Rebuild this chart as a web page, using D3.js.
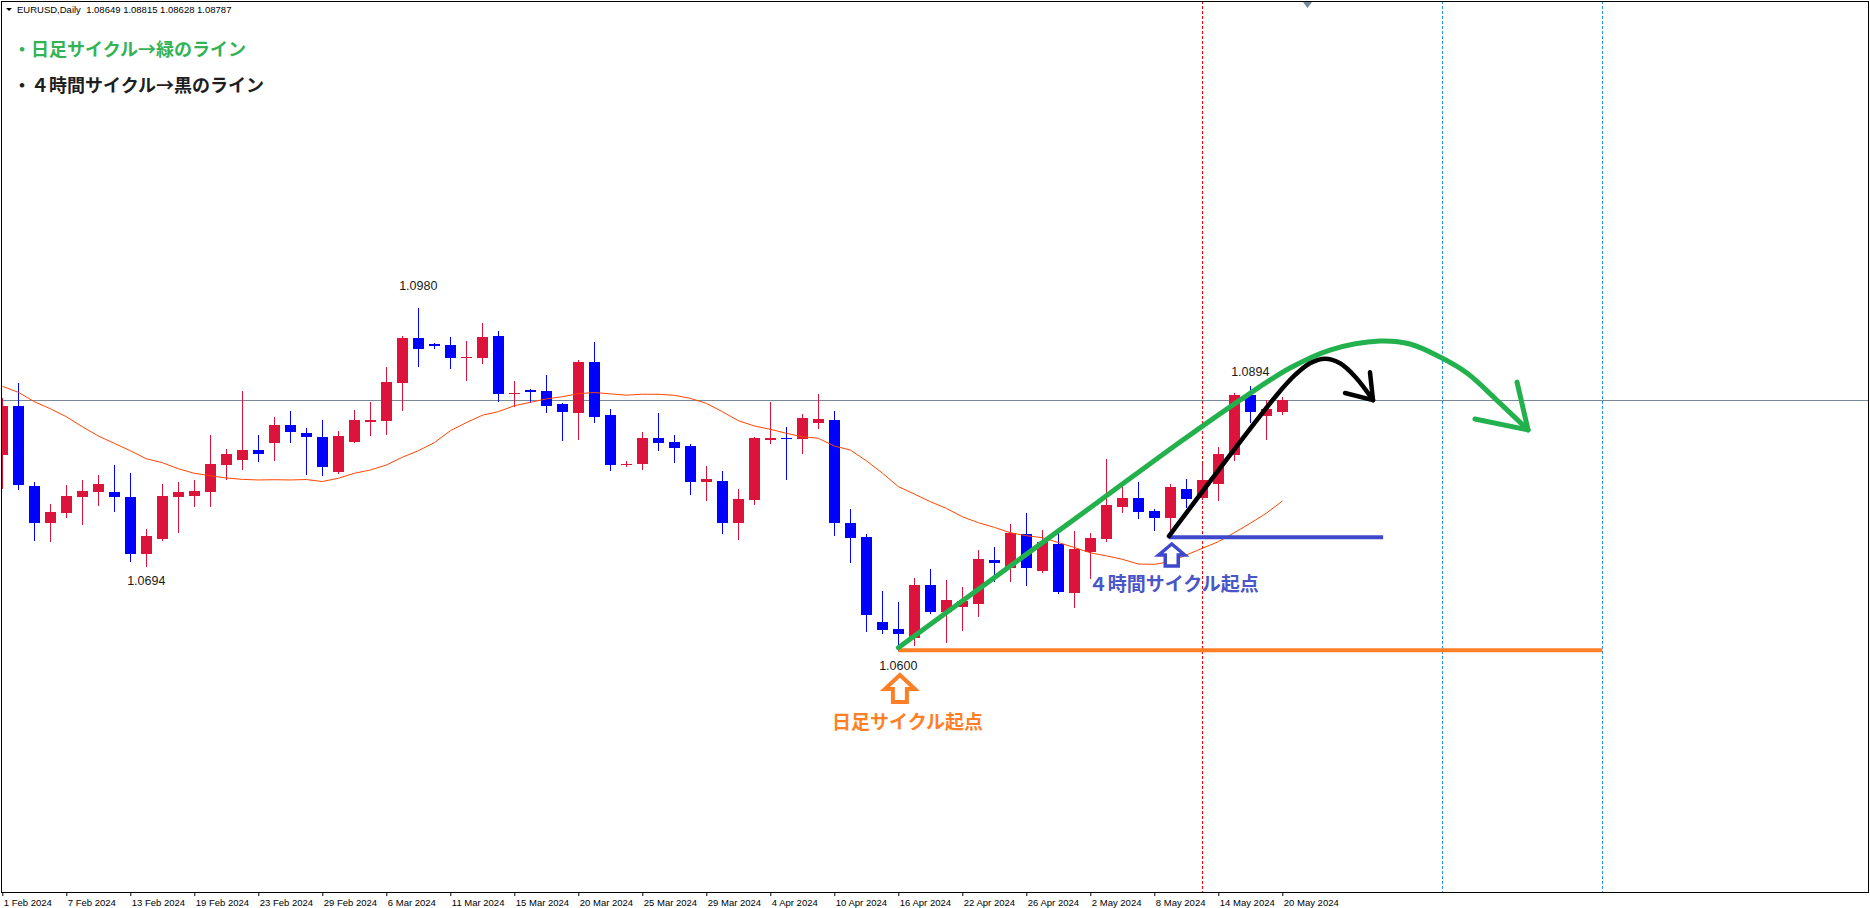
<!DOCTYPE html>
<html>
<head>
<meta charset="utf-8">
<script src="https://d3js.org/d3.v7.min.js"></script>
<style>
  html, body { margin: 0; padding: 0; background: #fff; }
  svg { display: block; }
  .axisText { font-family: 'Liberation Sans', Arial, sans-serif; font-size: 9.5px; fill: #000; }
  .headerText { font-family: 'Liberation Sans', Arial, sans-serif; font-size: 9.5px; fill: #000; white-space: pre; }
  .priceMark { font-family: 'Liberation Sans', Arial, sans-serif; font-size: 12.5px; fill: #1a1a1a; }
  .note { font-family: 'Noto Sans CJK JP', sans-serif; font-weight: bold; }
</style>
</head>
<body>
<div id="chart"></div>
<script>
// EURUSD daily, 1 Feb 2024 .. 20 May 2024 (one entry per bar)
const symbolTitle = 'EURUSD,Daily';
const opens = [1.08170, 1.08715, 1.07826, 1.07418, 1.07526, 1.07704, 1.07763, 1.07759, 1.07704, 1.07074,
  1.07237, 1.07704, 1.07715, 1.07759, 1.08059, 1.08118, 1.08226, 1.08307, 1.08504, 1.08415,
  1.08370, 1.07985, 1.08318, 1.08537, 1.08552, 1.08970, 1.09470, 1.09404, 1.09393, 1.09254,
  1.09252, 1.09493, 1.08854, 1.08896, 1.08882, 1.08740, 1.08640, 1.09204, 1.08615, 1.08065,
  1.08074, 1.08359, 1.08315, 1.08270, 1.07874, 1.07882, 1.07418, 1.07674, 1.08340, 1.08359,
  1.08352, 1.08529, 1.08559, 1.07415, 1.07259, 1.06315, 1.06237, 1.06140, 1.06726, 1.06429,
  1.06485, 1.06518, 1.07004, 1.06918, 1.07293, 1.06885, 1.07182, 1.06640, 1.07093, 1.07237,
  1.07593, 1.07693, 1.07548, 1.07470, 1.07793, 1.07693, 1.07852, 1.08170, 1.08837, 1.08604,
  1.08649];
const highs = [1.08804, 1.08974, 1.07870, 1.07626, 1.07837, 1.07893, 1.07948, 1.08059, 1.07970, 1.07348,
  1.07848, 1.07870, 1.07893, 1.08393, 1.08237, 1.08882, 1.08393, 1.08593, 1.08659, 1.08470,
  1.08559, 1.08437, 1.08670, 1.08759, 1.09148, 1.09493, 1.09800, 1.09415, 1.09482, 1.09440,
  1.09637, 1.09548, 1.08993, 1.08907, 1.09059, 1.08752, 1.09226, 1.09426, 1.08682, 1.08104,
  1.08429, 1.08637, 1.08393, 1.08293, 1.08048, 1.07993, 1.07793, 1.08370, 1.08759, 1.08482,
  1.08626, 1.08848, 1.08659, 1.07570, 1.07293, 1.06659, 1.06537, 1.06807, 1.06904, 1.06782,
  1.06704, 1.07115, 1.07148, 1.07407, 1.07526, 1.07337, 1.07359, 1.07326, 1.07304, 1.08126,
  1.07870, 1.07870, 1.07570, 1.07848, 1.07904, 1.08070, 1.08259, 1.08859, 1.08940, 1.08781,
  1.08815];
const lows = [1.07804, 1.07796, 1.07226, 1.07215, 1.07485, 1.07404, 1.07615, 1.07548, 1.06993, 1.06940,
  1.07226, 1.07315, 1.07604, 1.07604, 1.07904, 1.08015, 1.08107, 1.08118, 1.08318, 1.07963,
  1.07948, 1.07974, 1.08315, 1.08396, 1.08407, 1.08670, 1.09159, 1.09363, 1.09140, 1.09007,
  1.09196, 1.08774, 1.08718, 1.08763, 1.08652, 1.08340, 1.08348, 1.08537, 1.08007, 1.08048,
  1.08018, 1.08229, 1.08096, 1.07740, 1.07670, 1.07307, 1.07240, 1.07629, 1.08307, 1.07907,
  1.08196, 1.08474, 1.07285, 1.06985, 1.06218, 1.06196, 1.06000, 1.06063, 1.06415, 1.06093,
  1.06226, 1.06385, 1.06774, 1.06774, 1.06729, 1.06870, 1.06637, 1.06485, 1.06804, 1.07218,
  1.07540, 1.07470, 1.07340, 1.07337, 1.07596, 1.07682, 1.07674, 1.08115, 1.08537, 1.08348,
  1.08628];
const closes = [1.08715, 1.07840, 1.07418, 1.07537, 1.07715, 1.07770, 1.07848, 1.07707, 1.07074, 1.07270,
  1.07715, 1.07759, 1.07770, 1.08070, 1.08182, 1.08226, 1.08182, 1.08504, 1.08429, 1.08374,
  1.08040, 1.08382, 1.08559, 1.08559, 1.08982, 1.09470, 1.09352, 1.09382, 1.09252, 1.09259,
  1.09482, 1.08852, 1.08859, 1.08874, 1.08718, 1.08652, 1.09204, 1.08596, 1.08059, 1.08070,
  1.08359, 1.08307, 1.08252, 1.07874, 1.07904, 1.07418, 1.07682, 1.08359, 1.08359, 1.08353,
  1.08582, 1.08570, 1.07418, 1.07252, 1.06396, 1.06229, 1.06182, 1.06726, 1.06429, 1.06559,
  1.06548, 1.07015, 1.06974, 1.07304, 1.06918, 1.07204, 1.06645, 1.07126, 1.07248, 1.07615,
  1.07693, 1.07537, 1.07470, 1.07815, 1.07682, 1.07893, 1.08182, 1.08837, 1.08648, 1.08682,
  1.08787];
// moving average, read bar by bar
const maValues = [1.08934, 1.08867, 1.08763, 1.08685, 1.08596, 1.08485, 1.08382, 1.08300, 1.08218, 1.08129,
  1.08085, 1.08018, 1.07967, 1.07940, 1.07915, 1.07900, 1.07893, 1.07896, 1.07893, 1.07898,
  1.07876, 1.07912, 1.07967, 1.08004, 1.08059, 1.08145, 1.08218, 1.08307, 1.08440, 1.08530,
  1.08612, 1.08652, 1.08718, 1.08756, 1.08793, 1.08818, 1.08852, 1.08865, 1.08850, 1.08835,
  1.08846, 1.08845, 1.08834, 1.08800, 1.08745, 1.08652, 1.08552, 1.08493, 1.08456, 1.08412,
  1.08374, 1.08356, 1.08270, 1.08226, 1.08107, 1.07970, 1.07820, 1.07737, 1.07652, 1.07578,
  1.07485, 1.07418, 1.07367, 1.07307, 1.07274, 1.07252, 1.07198, 1.07143, 1.07084, 1.07050,
  1.07012, 1.06959, 1.06956, 1.06985, 1.07059, 1.07134, 1.07207, 1.07307, 1.07412, 1.07523,
  1.07659];

const tickLabels = ['1 Feb 2024', '7 Feb 2024', '13 Feb 2024', '19 Feb 2024', '23 Feb 2024', '29 Feb 2024',
  '6 Mar 2024', '11 Mar 2024', '15 Mar 2024', '20 Mar 2024', '25 Mar 2024', '29 Mar 2024', '4 Apr 2024',
  '10 Apr 2024', '16 Apr 2024', '22 Apr 2024', '26 Apr 2024', '2 May 2024', '8 May 2024', '14 May 2024',
  '20 May 2024'];
const tickEvery = 4;

// marked swing highs / lows (bar index)
const markBars = [9, 26, 56, 78];
const markKinds = ['low', 'high', 'low', 'high'];

// vertical dotted lines (bar index, future bars included)
const vLineBars = [75, 90, 100];
const vLineKinds = ['red', 'blue', 'blue'];

// hand drawn notes, points as [bar index, price]
const greenCurve = [[56.0, 1.0603], [62.36, 1.06854], [68.61, 1.07665], [73.61, 1.08315], [77.36, 1.08781],
  [80.48, 1.09137], [82.98, 1.09337], [86.1, 1.09437], [87.98, 1.09404], [89.86, 1.09259], [91.54, 1.09081],
  [93.4, 1.08781], [95.36, 1.08448]];
const greenHead = [[94.67, 1.0898], [95.36, 1.0845], [92.04, 1.0857]];
const blackCurve = [[72.92, 1.0727], [79.67, 1.0884], [80.8, 1.0906], [81.73, 1.0919], [82.67, 1.0924],
  [83.61, 1.0919], [84.61, 1.0903], [85.67, 1.0878]];
const blackHead = [[85.48, 1.0909], [85.67, 1.0878], [83.92, 1.0886]];
const dailyStartLine = [[56, 1.0600], [100, 1.0600]];
const h4StartLine = [[72.9, 1.07256], [86.3, 1.07256]];
const dailyArrowTip = [56.1, 1.05726];
const h4ArrowTip = [73.09, 1.07182];
const dailyLabel = {text: '日足サイクル起点', at: [51.86, 1.05126]};
const h4Label = {text: '４時間サイクル起点', at: [67.9, 1.06659]};
const legendLines = ['・日足サイクル→緑のライン', '・４時間サイクル→黒のライン'];

// visible price window of the chart
const priceMin = 1.03315, priceMax = 1.13215;

const width = 1870, height = 908;
const frame = {left: 1, top: 1, right: 1868, bottom: 892};

const svg = d3.select('#chart').append('svg')
    .attr('width', width)
    .attr('height', height)
    .style('background', '#fff');

const x = d3.scaleLinear().domain([0, opens.length - 1]).range([2.3, 2.3 + 16 * (opens.length - 1)]);
const y = d3.scaleLinear().domain([priceMin, priceMax]).range([frame.bottom, frame.top]);
const px = i => Math.round(x(i));

svg.append('clipPath').attr('id', 'plotClip')
    .append('rect')
    .attr('x', frame.left + 1).attr('y', frame.top + 1)
    .attr('width', frame.right - frame.left - 1).attr('height', frame.bottom - frame.top - 1);

const plot = svg.append('g').attr('clip-path', 'url(#plotClip)');

// bid line
plot.append('line')
    .attr('x1', frame.left).attr('x2', frame.right)
    .attr('y1', Math.round(y(closes[closes.length - 1])) + 0.5)
    .attr('y2', Math.round(y(closes[closes.length - 1])) + 0.5)
    .attr('stroke', '#778899');

// vertical dotted lines
plot.selectAll('.vline').data(vLineBars).join('line')
    .attr('class', 'vline')
    .attr('x1', d => px(d) + 0.5).attr('x2', d => px(d) + 0.5)
    .attr('y1', frame.top).attr('y2', frame.bottom)
    .attr('stroke', (d, i) => vLineKinds[i] === 'red' ? '#ff0000' : '#1e90ff')
    .attr('stroke-dasharray', '3,2');

// candles
const bars = opens.map((o, i) => ({i, o, h: highs[i], l: lows[i], c: closes[i]}));
const colorOf = d => d.c >= d.o ? '#dc143c' : '#0000ff';

plot.selectAll('.wick').data(bars).join('line')
    .attr('class', 'wick')
    .attr('x1', d => px(d.i) + 0.5).attr('x2', d => px(d.i) + 0.5)
    .attr('y1', d => Math.round(y(d.h))).attr('y2', d => Math.round(y(d.l)) + 1)
    .attr('stroke', colorOf);

plot.selectAll('.body').data(bars).join('rect')
    .attr('class', 'body')
    .attr('x', d => px(d.i) - 5)
    .attr('width', 11)
    .attr('y', d => Math.round(y(Math.max(d.o, d.c))))
    .attr('height', d => Math.max(1, Math.round(y(Math.min(d.o, d.c))) - Math.round(y(Math.max(d.o, d.c)))))
    .attr('fill', colorOf);

// moving average
plot.append('path')
    .datum(maValues)
    .attr('fill', 'none')
    .attr('stroke', '#ff4500')
    .attr('stroke-width', 1)
    .attr('d', d3.line().x((d, i) => x(i)).y(d => y(d)));

// high / low price marks
const markGap = {9: 19, 26: 18, 56: 20, 78: 10};
svg.selectAll('.priceMark').data(markBars).join('text')
    .attr('class', 'priceMark')
    .attr('x', d => x(d))
    .attr('y', (d, i) => markKinds[i] === 'high'
        ? y(highs[d]) - markGap[d]
        : y(lows[d]) + markGap[d])
    .attr('text-anchor', 'middle')
    .text((d, i) => (markKinds[i] === 'high' ? highs[d] : lows[d]).toFixed(4));

// x axis
const xAxis = d3.axisBottom(x)
    .tickValues(tickLabels.map((t, i) => i * tickEvery))
    .tickFormat((d, i) => tickLabels[i])
    .tickSize(4)
    .tickSizeOuter(0);

const axisG = svg.append('g')
    .attr('transform', `translate(0,${frame.bottom})`)
    .call(xAxis);
axisG.select('.domain').remove();
axisG.selectAll('line').attr('stroke', '#000');
axisG.selectAll('text')
    .attr('class', 'axisText')
    .attr('text-anchor', 'start')
    .attr('x', 1);
axisG.attr('font-size', null).attr('font-family', null);

// frame
svg.append('rect')
    .attr('x', frame.left + 0.5).attr('y', frame.top + 0.5)
    .attr('width', frame.right - frame.left).attr('height', frame.bottom - frame.top)
    .attr('fill', 'none').attr('stroke', '#000');

// chart shift marker
svg.append('path').attr('d', 'M1303,2 L1312,2 L1307.5,8 Z').attr('fill', '#778899');

// header
svg.append('path').attr('d', 'M6,8 L12,8 L9,11 Z').attr('fill', '#000');
svg.append('text')
    .attr('class', 'headerText')
    .attr('x', 17).attr('y', 13)
    .text(`${symbolTitle}  ${[opens, highs, lows, closes].map(a => a[a.length - 1].toFixed(5)).join(' ')}`);

// ---- pasted notes ----
const toXY = p => [x(p[0]), y(p[1])];
const notes = svg.append('g');

notes.append('path')
    .attr('d', d3.line()(dailyStartLine.map(toXY)))
    .attr('stroke', '#ff7f27').attr('stroke-width', 4).attr('fill', 'none');
notes.append('path')
    .attr('d', d3.line()(h4StartLine.map(toXY)))
    .attr('stroke', '#3f48cc').attr('stroke-width', 4).attr('fill', 'none');

const strokeLine = (pts, color, w, curve) => notes.append('path')
    .attr('d', d3.line().curve(curve)(pts.map(toXY)))
    .attr('stroke', color).attr('stroke-width', w)
    .attr('fill', 'none')
    .attr('stroke-linecap', 'round').attr('stroke-linejoin', 'round');

strokeLine(greenCurve, '#22b14c', 5, d3.curveCatmullRom);
strokeLine(greenHead, '#22b14c', 5, d3.curveLinear);
strokeLine(blackCurve, '#000', 4.5, d3.curveCatmullRom);
strokeLine(blackHead, '#000', 4.5, d3.curveLinear);

// hollow up arrows
const upArrow = (tip, half, head, shaft, len, color, w) => {
    const [tx, ty] = toXY(tip);
    const pts = [[0, 0], [half, head], [shaft, head], [shaft, len], [-shaft, len], [-shaft, head], [-half, head]]
        .map(p => [tx + p[0], ty + p[1]]);
    notes.append('path')
        .attr('d', d3.line()(pts) + 'Z')
        .attr('fill', '#fff').attr('stroke', color).attr('stroke-width', w)
        .attr('stroke-linejoin', 'miter');
};
upArrow(dailyArrowTip, 15, 14, 7, 27, '#ff7f27', 4);
upArrow(h4ArrowTip, 13, 11, 6.5, 22, '#3f48cc', 3.5);

notes.append('text')
    .attr('class', 'note')
    .attr('x', x(dailyLabel.at[0])).attr('y', y(dailyLabel.at[1]))
    .attr('font-size', 19).attr('fill', '#ff7f27')
    .text(dailyLabel.text);
notes.append('text')
    .attr('class', 'note')
    .attr('x', x(h4Label.at[0])).attr('y', y(h4Label.at[1]))
    .attr('font-size', 19).attr('fill', '#4a55c8')
    .text(h4Label.text);

svg.selectAll('.legend').data(legendLines).join('text')
    .attr('class', 'note legend')
    .attr('x', 13)
    .attr('y', (d, i) => 56 + i * 36)
    .attr('font-size', 18)
    .attr('fill', (d, i) => i === 0 ? '#33b356' : '#1e1e1e')
    .text(d => d);
</script>
</body>
</html>
